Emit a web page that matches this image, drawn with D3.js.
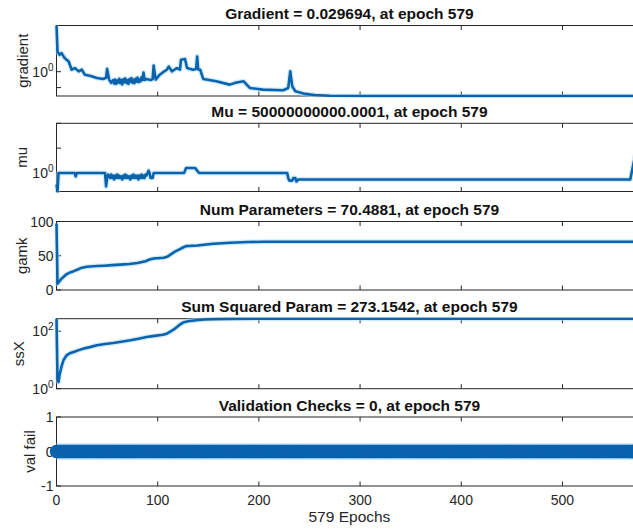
<!DOCTYPE html>
<html>
<head>
<meta charset="utf-8">
<script src="https://cdn.jsdelivr.net/npm/d3@7"></script>
<style>
  html, body { margin: 0; padding: 0; background: #ffffff; }
  svg { display: block; font-family: "Liberation Sans", Arial, Helvetica, sans-serif; }
</style>
</head>
<body>
<svg id="chart" width="633" height="531"></svg>
<script>
// ---- training record (values per epoch) ----
const finalEpoch = 579;
const xTickValues = [0, 100, 200, 300, 400, 500];
const xAxisLabel = "579 Epochs";

const panelTitles = [
  "Gradient = 0.029694, at epoch 579",
  "Mu = 50000000000.0001, at epoch 579",
  "Num Parameters = 70.4881, at epoch 579",
  "Sum Squared Param = 273.1542, at epoch 579",
  "Validation Checks = 0, at epoch 579"
];
const panelYLabels = ["gradient", "mu", "gamk", "ssX", "val fail"];

const gradientEpochs = [0, 1, 3, 5, 8, 12, 15, 18, 22, 25, 28, 33, 40, 46, 49, 50, 52, 54,
  56, 57, 58, 59, 60, 61, 62, 63, 64, 65, 66, 67, 68, 69, 70, 71, 72, 73, 74, 75, 76, 77, 78,
  79, 80, 81, 82, 83, 84, 85, 86, 87, 89, 91, 93, 95, 96, 98, 102, 105, 109, 111, 114, 119,
  122, 123, 127, 129, 135, 138, 139, 140, 142, 145, 158, 171, 178, 185, 191, 204, 224, 229,
  231, 233, 236, 244, 255, 270, 300, 400, 500, 579];
const gradientValues = [800, 18.6, 11.5, 14.7, 7.2, 4.4, 1.33, 1.7, 1.05, 1.33, 0.65, 0.56, 0.4, 0.35, 0.42, 1.5, 0.32, 0.2,
  0.3, 0.18, 0.32, 0.17, 0.28, 0.21, 0.36, 0.19, 0.3, 0.16, 0.33, 0.22, 0.38, 0.2, 0.29, 0.17, 0.34, 0.23, 0.4, 0.2, 0.31, 0.19, 0.36,
  0.24, 0.42, 0.22, 0.33, 0.25, 0.45, 0.3, 0.87, 0.3, 0.35, 0.32, 0.3, 0.34, 2.4, 0.32, 0.65, 0.9, 1.33, 2.1, 1.05, 1.7,
  1.33, 5.6, 6.2, 1.7, 1.33, 1.5, 9, 1.4, 1.33, 0.35, 0.25, 0.154, 0.21, 0.25, 0.095, 0.075, 0.068, 0.095,
  1.05, 0.12, 0.059, 0.042, 0.034, 0.031, 0.0299, 0.0298, 0.0297, 0.029694];

const muEpochs = [0, 1, 2, 18, 19, 20, 48, 49, 50, 51,
  52, 53, 54, 55, 56, 57, 58, 59, 60, 61, 62, 63, 64, 65, 66, 67, 68, 69, 70, 71, 72, 73, 74,
  75, 76, 77, 78, 79, 80, 81, 82, 83, 84, 85, 86, 87, 88, 89,
  90, 91, 92, 93, 95, 96, 126, 127, 128, 137, 139, 141, 228, 229, 230, 233, 234, 236, 237, 239, 567,
  568, 569, 570, 571, 572, 573, 574, 575, 576, 577, 578, 579];
const muValues = [0.005, 0.0002, 1, 1, 0.2, 1, 1, 0.002, 0.1, 0.5,
  0.3, 0.1, 0.5, 0.1, 0.3, 0.05, 0.3, 0.1, 0.5, 0.1, 0.3, 0.1, 0.2, 0.05, 0.3, 0.1, 0.5, 0.1, 0.3, 0.1, 0.2, 0.05, 0.3,
  0.1, 0.5, 0.1, 0.3, 0.1, 0.3, 0.05, 0.3, 0.1, 0.5, 0.1, 0.3, 0.1, 0.5, 0.3,
  1, 3, 1, 0.1, 0.1, 1, 1, 3, 10, 10, 3, 1, 1, 0.1, 0.03, 0.03, 0.1, 0.1, 0.02, 0.05, 0.05,
  0.5, 5, 50, 500, 5000, 50000, 500000, 5e6, 5e7, 5e8, 5e9, 5e10];

const gamkEpochs = [0, 1, 2, 4, 6, 9, 11, 14, 17, 21, 24, 30, 40, 47, 55, 63, 72, 80, 88, 92, 96,
  106, 110, 113, 117, 121, 125, 128, 139, 155, 172, 189, 205, 300, 400, 500, 579];
const gamkValues = [97, 9, 11, 15, 18, 22, 24, 26, 27.5, 30, 32, 34, 35, 35.5, 36.3, 37, 38, 39.5, 42, 44.5, 46,
  47, 49, 52, 56, 59, 62, 64, 65, 67.5, 69, 70, 70.4, 70.5, 70.5, 70.49, 70.4881];

const ssxEpochs = [0, 1, 2, 3, 5, 7, 10, 13, 17, 22, 27, 33, 40, 48, 56, 64, 73, 81, 89, 97, 105,
  109, 112, 116, 119, 122, 125, 130, 138, 146, 155, 170, 200, 300, 400, 579];
const ssxValues = [270, 2.2, 1.7, 3, 6, 10, 14.5, 17, 19, 22, 25, 28, 32.5, 36, 39, 43, 48.5, 55, 63, 69, 76,
  82, 95, 115, 141, 170, 200, 222, 240, 255, 265, 270, 272, 273, 273.1, 273.1542];

const valFailValue = 0;

// ---- layout ----
const plotLeft = 56.5, plotRight = 642.4;
const panelBoxes = [
  { top: 25.5, bottom: 96 },
  { top: 123.3, bottom: 191.5 },
  { top: 221.5, bottom: 290 },
  { top: 318.7, bottom: 388.7 },
  { top: 417, bottom: 486 }
];
const yLabelBaselineX = [28, 27, 27, 24, 35];

const lineColor = "#0b63ad";
const haloColor = "#a9daf6";
const axisColor = "#262626";

const svg = d3.select("#chart");
const x = d3.scaleLinear().domain([0, finalEpoch]).range([plotLeft, plotRight]);

const panelDefs = [
  { scale: d3.scaleLog().domain([0.029694, 800]),
    ticks: [{ v: 1, exp: 0 }, { v: 0.1 }],
    series: gradientEpochs.map((e, i) => [e, gradientValues[i]]) },
  { scale: d3.scaleLog().domain([Math.pow(10, -3.72), 1e10]),
    ticks: [{ v: 1, exp: 0 }, { v: 1e5 }, { v: 1e10 }],
    series: muEpochs.map((e, i) => [e, muValues[i]]) },
  { scale: d3.scaleLinear().domain([0, 100]),
    ticks: [{ v: 0, text: "0" }, { v: 50, text: "50" }, { v: 100, text: "100" }],
    series: gamkEpochs.map((e, i) => [e, gamkValues[i]]) },
  { scale: d3.scaleLog().domain([1, 273.1542]),
    ticks: [{ v: 1, exp: 0 }, { v: 100, exp: 2 }],
    series: ssxEpochs.map((e, i) => [e, ssxValues[i]]) },
  { scale: d3.scaleLinear().domain([-1, 1]),
    ticks: [{ v: -1, text: "-1" }, { v: 0, text: "0" }, { v: 1, text: "1" }],
    series: null }
];

const defs = svg.append("defs");

panelDefs.forEach((p, i) => {
  const box = panelBoxes[i];
  const y = p.scale.range([box.bottom, box.top]);
  const g = svg.append("g");

  // title
  g.append("text")
    .attr("x", (plotLeft + plotRight) / 2)
    .attr("y", box.top - 6.5)
    .attr("text-anchor", "middle")
    .attr("font-size", 15.5)
    .attr("font-weight", "bold")
    .attr("fill", "#111")
    .text(panelTitles[i]);

  // y label
  const cy = (box.top + box.bottom) / 2;
  g.append("text")
    .attr("transform", `translate(${yLabelBaselineX[i]},${cy}) rotate(-90)`)
    .attr("text-anchor", "middle")
    .attr("font-size", 15)
    .attr("fill", axisColor)
    .text(panelYLabels[i]);

  // frame
  g.append("rect")
    .attr("x", plotLeft).attr("y", box.top)
    .attr("width", plotRight - plotLeft).attr("height", box.bottom - box.top)
    .attr("fill", "none").attr("stroke", axisColor).attr("stroke-width", 1);

  // x ticks top and bottom (inward)
  xTickValues.forEach(t => {
    g.append("line").attr("x1", x(t)).attr("x2", x(t))
      .attr("y1", box.bottom).attr("y2", box.bottom - 4.5)
      .attr("stroke", axisColor).attr("stroke-width", 1);
    g.append("line").attr("x1", x(t)).attr("x2", x(t))
      .attr("y1", box.top).attr("y2", box.top + 4.5)
      .attr("stroke", axisColor).attr("stroke-width", 1);
  });

  // y ticks and labels
  p.ticks.forEach(t => {
    const ty = y(t.v);
    g.append("line").attr("x1", plotLeft).attr("x2", plotLeft + 4.5)
      .attr("y1", ty).attr("y2", ty)
      .attr("stroke", axisColor).attr("stroke-width", 1);
    if (t.exp !== undefined) {
      const tx = g.append("text").attr("x", plotLeft - 3).attr("y", ty + 5)
        .attr("text-anchor", "end").attr("font-size", 14).attr("fill", axisColor);
      tx.append("tspan").text("10");
      tx.append("tspan").attr("dy", -6).attr("font-size", 10).text(String(t.exp));
    } else if (t.text !== undefined) {
      g.append("text").attr("x", plotLeft - 3).attr("y", ty + 5)
        .attr("text-anchor", "end").attr("font-size", 14).attr("fill", axisColor)
        .text(t.text);
    }
  });

  // data
  if (p.series) {
    const clipId = "clip" + i;
    defs.append("clipPath").attr("id", clipId).append("rect")
      .attr("x", plotLeft - 2).attr("y", box.top - 1.5)
      .attr("width", plotRight - plotLeft + 4).attr("height", box.bottom - box.top + 3);
    const line = d3.line().x(d => x(d[0])).y(d => y(d[1]));
    const lg = g.append("g").attr("clip-path", `url(#${clipId})`);
    lg.append("path").datum(p.series).attr("d", line)
      .attr("fill", "none").attr("stroke", haloColor).attr("stroke-width", 5)
      .attr("stroke-linejoin", "round").attr("opacity", 0.55);
    lg.append("path").datum(p.series).attr("d", line)
      .attr("fill", "none").attr("stroke", lineColor).attr("stroke-width", 2.6)
      .attr("stroke-linejoin", "round");
  } else {
    // one circle marker per epoch along the zero line
    const epochs = d3.range(0, finalEpoch + 1);
    g.append("line")
      .attr("x1", x(0)).attr("x2", x(finalEpoch))
      .attr("y1", y(valFailValue)).attr("y2", y(valFailValue))
      .attr("stroke", haloColor).attr("stroke-width", 17).attr("opacity", 0.55);
    g.append("g").selectAll("circle").data(epochs).join("circle")
      .attr("cx", d => x(d)).attr("cy", y(valFailValue)).attr("r", 5.6)
      .attr("fill", lineColor).attr("stroke", lineColor).attr("stroke-width", 2.2);
  }

  // x tick labels on the last panel
  if (i === panelDefs.length - 1) {
    xTickValues.forEach(t => {
      g.append("text").attr("x", x(t)).attr("y", box.bottom + 18.5)
        .attr("text-anchor", "middle").attr("font-size", 14).attr("fill", axisColor)
        .text(String(t));
    });
    g.append("text").attr("x", (plotLeft + plotRight) / 2).attr("y", box.bottom + 35.5)
      .attr("text-anchor", "middle").attr("font-size", 15.5).attr("fill", axisColor)
      .text(xAxisLabel);
  }
});
</script>
</body>
</html>
